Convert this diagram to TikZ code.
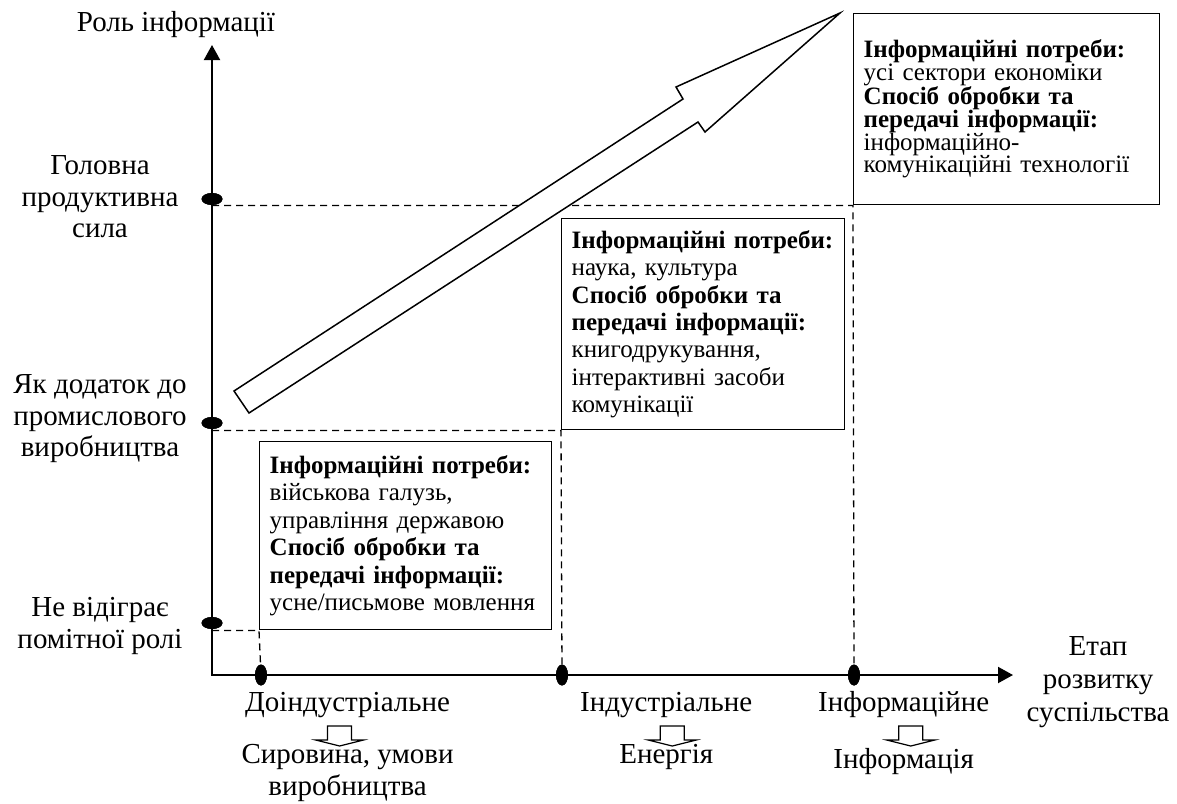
\documentclass[tikz,border=0pt]{standalone}
\usepackage{fontspec}
\setmainfont{Liberation Serif}
\usetikzlibrary{arrows.meta,shapes.geometric}
% fixed line spacing in the text blocks, whatever the glyph heights
\lineskiplimit=-30pt

\begin{document}
\begin{tikzpicture}[x=1pt,y=-1pt,
  lbl/.style={align=center,inner sep=0pt,font=\fontsize{29}{31.5}\selectfont},
  infobox/.style={draw,line width=1.4pt,fill=white,anchor=north west,align=left,
    inner xsep=10pt,inner ysep=0pt},
  boxfont/.style={font=\fontsize{25}{27.4}\selectfont},
  tightfont/.style={font=\fontsize{25}{22.7}\selectfont},
  ydot/.style={ellipse,fill=black,minimum width=21pt,minimum height=12pt,inner sep=0pt},
  xdot/.style={ellipse,fill=black,minimum width=12pt,minimum height=21pt,inner sep=0pt},
  guide/.style={line width=1.3pt,dash pattern=on 7pt off 5pt},
  axistip/.tip={Triangle[length=15pt,width=16pt]},
  downarrow/.pic={\draw[line width=1.2pt,fill=white,line join=miter]
    (-12,0) -- (12,0) -- (12,14) -- (24,14) -- (0,20) -- (-24,14) -- (-12,14) -- cycle;}
]
\useasboundingbox (0,0) rectangle (1177,803);

% axes
\coordinate (O) at (212,675);
\coordinate (ytop) at (212,45);
\coordinate (xend) at (1013,675);

% stage boxes
\node[infobox,boxfont,text width=272pt,minimum height=188pt] (box1) at (259,441)
  {\mbox{\textbf{Інформаційні потреби:}}\\військова галузь,\\управління державою\\
   \textbf{Спосіб обробки та}\\\mbox{\textbf{передачі інформації:}}\\\mbox{усне/письмове мовлення}};
\node[infobox,boxfont,text width=263pt,minimum height=211pt] (box2) at (561,218)
  {\mbox{\textbf{Інформаційні потреби:}}\\наука, культура\\
   \textbf{Спосіб обробки та}\\\mbox{\textbf{передачі інформації:}}\\книгодрукування,\\
   інтерактивні засоби\\комунікації};
\node[infobox,tightfont,text width=286pt,minimum height=191pt] (box3) at (853,13)
  {\mbox{\textbf{Інформаційні потреби:}}\\усі сектори економіки\\
   \textbf{Спосіб обробки та}\\\mbox{\textbf{передачі інформації:}}\\інформаційно-\\
   \mbox{комунікаційні технології}};

% dots on the axes
\node[ydot] (d1) at (212,623) {};
\node[ydot] (d2) at (212,423) {};
\node[ydot] (d3) at (212,199) {};
\node[xdot] (e1) at (261,675) {};
\node[xdot] (e2) at (562,675) {};
\node[xdot] (e3) at (854,675) {};

% dashed guides from the role level to the stage
\draw[guide] (d1.center |- box1.south west) -- (box1.south west) -- (e1.center);
\draw[guide] (d2.center |- box2.south west) -- (box2.south west) -- (e2.center);
\draw[guide] (d3.center |- box3.south west) -- (box3.south west) -- (e3.center);

% growth arrow
\draw[line width=1.5pt,fill=white,line join=miter]
  (234,391) -- (683,99) -- (676,87) -- (840,13) -- (705,132) -- (698,122) -- (249,413) -- cycle;

\draw[line width=2pt,line join=miter,axistip-axistip] (ytop) -- (O) -- (xend);
\node[ydot] at (d1) {};
\node[ydot] at (d2) {};
\node[ydot] at (d3) {};
\node[xdot] at (e1) {};
\node[xdot] at (e2) {};
\node[xdot] at (e3) {};

% axis titles
\node[lbl] (ytitle) at (176,25) {Роль інформації};
\node[lbl,font=\fontsize{29}{33}\selectfont] (xtitle) at (1098,682) {Етап\\розвитку\\суспільства};

% role levels
\node[lbl] (role3) at (100,197) {Головна\\продуктивна\\сила};
\node[lbl] (role2) at (100,419) {Як додаток до\\промислового\\виробництва};
\node[lbl] (role1) at (100,626) {Не відіграє\\помітної ролі};

% stages and their key resource
\coordinate (arow) at (0,726);
\node[lbl,anchor=west] (s1) at (245,705) {Доіндустріальне};
\node[lbl,anchor=west] (s2) at (580,705) {Індустріальне};
\node[lbl,anchor=west] (s3) at (818,705) {Інформаційне};
\pic at ([xshift=-8pt]s1 |- arow) {downarrow};
\pic at ([xshift=6pt]s2 |- arow) {downarrow};
\pic at ([xshift=7pt]s3 |- arow) {downarrow};
\node[lbl] (r1) at (s1 |- 0,773) {Сировина, умови\\виробництва};
\node[lbl] (r2) at (s2 |- 0,757) {Енергія};
\node[lbl] (r3) at (s3 |- 0,762) {Інформація};
\end{tikzpicture}
\end{document}
